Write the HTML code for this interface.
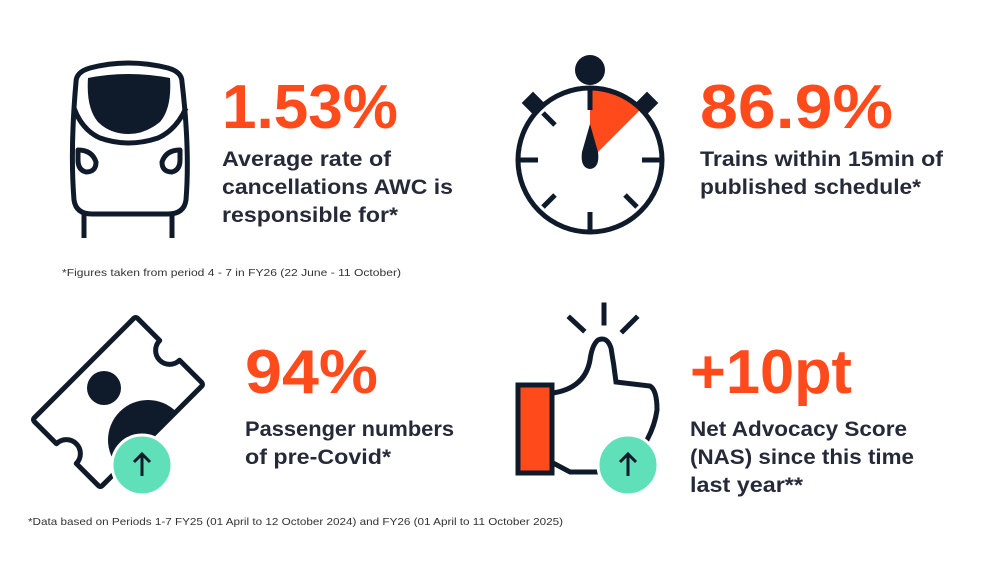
<!DOCTYPE html>
<html><head><meta charset="utf-8"><style>
html,body{margin:0;padding:0;background:#fff;}
svg{display:block}
text{font-family:"Liberation Sans",Arial,sans-serif;font-weight:bold;}
.h{fill:#ff4a1c;font-size:62px;}
.b{fill:#262a38;font-size:21.5px;}
.f{fill:#333;font-size:10.5px;font-weight:normal;}
</style></head><body>
<svg width="1000" height="568" viewBox="0 0 1000 568" xmlns="http://www.w3.org/2000/svg">
<rect width="1000" height="568" fill="#fff"/>
<!-- Train -->
<g fill="none" stroke="#0f1b2a" stroke-width="5" stroke-linejoin="round">
  <path d="M76 82 Q76 72 90 68 Q128 58 168 68 Q182 72 182 82 Q190 150 186 200 Q184 214 168 214 L92 214 Q76 214 74 200 Q70 150 76 82 Z"/>
  <path d="M74 108 Q82 130 100 138 Q128 148 158 138 Q176 130 186 108"/>
  <path d="M78 150 Q92 150 96 162 Q96 172 86 172 Q78 170 78 160 Z"/>
  <path d="M180 150 Q166 150 162 162 Q162 172 172 172 Q180 170 180 160 Z"/>
  <path d="M84 214 L84 238 M172 214 L172 238"/>
</g>
<path d="M88 78 Q128 70 170 78 Q172 108 160 122 Q145 134 129 134 Q110 134 98 122 Q86 108 88 78 Z" fill="#0f1b2a"/>
<!-- Stopwatch -->
<circle cx="590" cy="70" r="15" fill="#0f1b2a"/>
<path d="M590 160 L590 88 A72 72 0 0 1 641 109 Z" fill="#ff4a1c"/>
<circle cx="590" cy="160" r="72" fill="none" stroke="#0f1b2a" stroke-width="5"/>
<g stroke="#0f1b2a" stroke-width="5">
<line x1="590" y1="86" x2="590" y2="110"/><line x1="590" y1="212" x2="590" y2="234"/>
<line x1="516" y1="160" x2="538" y2="160"/><line x1="642" y1="160" x2="664" y2="160"/>
<line x1="543" y1="113" x2="555" y2="125"/><line x1="543" y1="207" x2="555" y2="195"/>
<line x1="637" y1="207" x2="625" y2="195"/>
<line x1="530" y1="100" x2="540" y2="110"/><line x1="650" y1="100" x2="640" y2="110"/>
</g>
<rect x="525" y="95" width="16" height="16" fill="#0f1b2a" transform="rotate(45 533 103)"/>
<rect x="639" y="95" width="16" height="16" fill="#0f1b2a" transform="rotate(45 647 103)"/>
<path d="M590 124 L598 152 Q600 168 590 169 Q580 168 582 152 Z" fill="#0f1b2a"/>
<!-- Ticket -->
<g transform="translate(118 402) rotate(-45)">
<path d="M-70 -48 L70 -48 Q73 -48 73 -45 L73 -14 A14 14 0 0 0 73 14 L73 45 Q73 48 70 48 L-70 48 Q-73 48 -73 45 L-73 14 A14 14 0 0 0 -73 -14 L-73 -45 Q-73 -48 -70 -48 Z" fill="none" stroke="#0f1b2a" stroke-width="5" stroke-linejoin="round"/>
</g>
<circle cx="104" cy="388" r="17" fill="#0f1b2a"/>
<path d="M-40 0 A40 40 0 0 1 40 0 Z" fill="#0f1b2a" transform="translate(148 440) rotate(-45)"/>
<circle cx="142" cy="465" r="30" fill="#5fe0b8" stroke="#fff" stroke-width="3"/>
<path d="M142 476 L142 455 M134 462 L142 454 L150 462" fill="none" stroke="#0f1b2a" stroke-width="3"/>
<!-- Thumb -->
<g stroke="#0f1b2a" stroke-width="5" fill="none" stroke-linecap="square">
<path d="M553 393 Q585 388 590 360 Q592 345 598 340 Q607 336 611 348 Q614 365 616 382 L650 386 Q657 390 657 410 Q655 425 647 440"/>
<path d="M553 463 L570 472 L600 472"/>
<line x1="570" y1="318" x2="583" y2="330"/><line x1="604" y1="305" x2="604" y2="323"/><line x1="636" y1="318" x2="623" y2="331"/>
</g>
<rect x="518" y="385" width="34" height="88" fill="#ff4a1c" stroke="#0f1b2a" stroke-width="5"/>
<circle cx="628" cy="465" r="30" fill="#5fe0b8" stroke="#fff" stroke-width="3"/>
<path d="M628 476 L628 455 M620 462 L628 454 L636 462" fill="none" stroke="#0f1b2a" stroke-width="3"/>
<!-- Text -->
<text class="h" x="222" y="128" textLength="176" lengthAdjust="spacingAndGlyphs">1.53%</text>
<text class="b" x="222" y="166" textLength="169" lengthAdjust="spacingAndGlyphs">Average rate of</text>
<text class="b" x="222" y="194" textLength="231" lengthAdjust="spacingAndGlyphs">cancellations AWC is</text>
<text class="b" x="222" y="222" textLength="176" lengthAdjust="spacingAndGlyphs">responsible for*</text>
<text class="h" x="700" y="128" textLength="193" lengthAdjust="spacingAndGlyphs">86.9%</text>
<text class="b" x="700" y="166" textLength="243" lengthAdjust="spacingAndGlyphs">Trains within 15min of</text>
<text class="b" x="700" y="194" textLength="221" lengthAdjust="spacingAndGlyphs">published schedule*</text>
<text class="f" x="62" y="276" textLength="339" lengthAdjust="spacingAndGlyphs">*Figures taken from period 4 - 7 in FY26 (22 June - 11 October)</text>
<text class="h" x="245" y="393" textLength="133" lengthAdjust="spacingAndGlyphs">94%</text>
<text class="b" x="245" y="436" textLength="209" lengthAdjust="spacingAndGlyphs">Passenger numbers</text>
<text class="b" x="245" y="464" textLength="146" lengthAdjust="spacingAndGlyphs">of pre-Covid*</text>
<text class="h" x="690" y="393" textLength="162" lengthAdjust="spacingAndGlyphs">+10pt</text>
<text class="b" x="690" y="436" textLength="217" lengthAdjust="spacingAndGlyphs">Net Advocacy Score</text>
<text class="b" x="690" y="464" textLength="224" lengthAdjust="spacingAndGlyphs">(NAS) since this time</text>
<text class="b" x="690" y="492" textLength="113" lengthAdjust="spacingAndGlyphs">last year**</text>
<text class="f" x="28" y="525" textLength="535" lengthAdjust="spacingAndGlyphs">*Data based on Periods 1-7 FY25 (01 April to 12 October 2024) and FY26 (01 April to 11 October 2025)</text>
</svg>
</body></html>
